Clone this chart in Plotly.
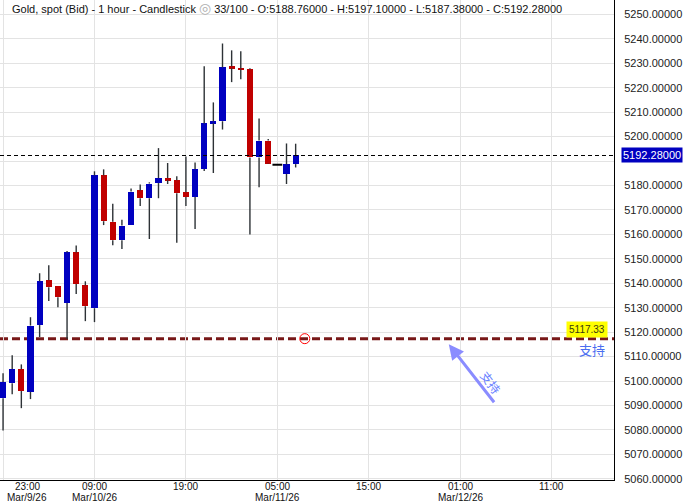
import plotly.graph_objs as go
import pandas as pd

# hourly candles, Gold spot (Bid)
start_time = '2026-03-09 23:00'
n_candles = 33
times = pd.date_range(start_time, periods=n_candles, freq='h')

opens = [5092.9, 5099.1, 5104.8, 5095.5, 5122.9, 5141.2, 5138.7, 5131.9, 5152.6, 5139.1,
         5129.8, 5184.1, 5165.2, 5157.6, 5163.8, 5178.0, 5174.8, 5181.0, 5183.0, 5182.1,
         5177.2, 5175.3, 5186.7, 5205.5, 5206.3, 5228.7, 5227.9, 5227.5, 5191.5, 5198.4,
         5188.5, 5184.7, 5188.76]
highs = [5103.2, 5110.5, 5106.8, 5126.1, 5144.1, 5147.4, 5138.7, 5153.2, 5155.5, 5140.8,
         5185.8, 5186.6, 5172.5, 5166.0, 5178.8, 5180.4, 5181.3, 5195.3, 5189.2, 5183.8,
         5191.9, 5189.4, 5228.8, 5214.0, 5238.1, 5235.3, 5234.9, 5228.0, 5207.4, 5199.0,
         5188.5, 5197.2, 5197.10]
lows = [5079.8, 5094.6, 5088.9, 5092.6, 5118.0, 5132.7, 5130.2, 5117.2, 5135.6, 5124.5,
        5124.1, 5163.8, 5155.6, 5154.0, 5163.8, 5171.6, 5158.1, 5174.8, 5180.6, 5156.6,
        5171.6, 5162.2, 5185.9, 5185.1, 5202.9, 5222.3, 5223.5, 5160.0, 5179.3, 5188.8,
        5188.5, 5180.6, 5187.38]
closes = [5099.6, 5104.8, 5095.9, 5122.7, 5140.8, 5138.4, 5134.3, 5152.6, 5139.7, 5130.6,
          5184.1, 5165.4, 5157.6, 5163.6, 5177.5, 5174.8, 5180.8, 5183.0, 5182.2, 5176.8,
          5175.3, 5186.6, 5205.4, 5206.2, 5228.3, 5228.0, 5227.5, 5191.5, 5198.4, 5189.0,
          5188.5, 5188.6, 5192.28]

last_price = 5192.28
support_price = 5117.33
support_label = '5117.33'
support_text = '支持'
support_anchor = '2026-03-11 08:00'
arrow_tip = ('2026-03-11 23:45', 5115.0)
arrow_tail = ('2026-03-12 04:50', 5090.7)
arrow_text_pos = ('2026-03-12 04:25', 5099.4)

x_tick_times = ['2026-03-09 23:00', '2026-03-10 09:00', '2026-03-10 19:00', '2026-03-11 05:00',
                '2026-03-11 15:00', '2026-03-12 01:00', '2026-03-12 11:00']
x_tick_hours = ['23:00', '09:00', '19:00', '05:00', '15:00', '01:00', '11:00']
x_tick_dates = ['Mar/9/26', 'Mar/10/26', '', 'Mar/11/26', '', 'Mar/12/26', '']

y_ticks = list(range(5060, 5251, 10))

title_text = ("Gold, spot (Bid) - 1 hour - Candlestick "
              "<span style='color:#b0b0b0;font-size:14px'>◎</span> "
              "33/100 - O:5188.76000 - H:5197.10000 - L:5187.38000 - C:5192.28000")

BLUE = '#0000c0'
RED = '#c00000'
FONT = 'Liberation Sans, Arial, sans-serif'

fig = go.Figure()

# 蠟燭實體
body_base = [min(o, c) for o, c in zip(opens, closes)]
body_len = [abs(c - o) for o, c in zip(opens, closes)]
body_col = [BLUE if c > o else RED for o, c in zip(opens, closes)]
fig.add_trace(go.Bar(
    x=times, y=body_len, base=body_base,
    width=0.66 * 3600000,
    marker=dict(color=body_col, line=dict(width=0)),
    showlegend=False, hoverinfo='skip'
))

# 上下影線
wx, wy = [], []
for t, o, h, l, c in zip(times, opens, highs, lows, closes):
    top, bot = max(o, c), min(o, c)
    if h > top:
        wx += [t, t, None]
        wy += [h, top, None]
    if l < bot:
        wx += [t, t, None]
        wy += [bot, l, None]
fig.add_trace(go.Scatter(x=wx, y=wy, mode='lines',
                         line=dict(color='#2d3236', width=1.4),
                         showlegend=False, hoverinfo='skip'))

# 十字星
doji_t = [t for t, o, c in zip(times, opens, closes) if o == c]
doji_p = [o for o, c in zip(opens, closes) if o == c]
fig.add_trace(go.Scatter(x=doji_t, y=doji_p, mode='markers',
                         marker=dict(symbol='line-ew', size=7,
                                     line=dict(color='black', width=2)),
                         showlegend=False, hoverinfo='skip'))

# 支撐線 handle
fig.add_trace(go.Scatter(x=[support_anchor], y=[support_price], mode='markers',
                         marker=dict(symbol='circle-open', size=10, color='#ff0000',
                                     line=dict(color='#ff0000', width=1)),
                         showlegend=False, hoverinfo='skip'))

shapes = [
    dict(type='line', xref='paper', x0=0, x1=1, y0=last_price, y1=last_price,
         line=dict(color='black', width=1.2, dash='4px,3px'), layer='above'),
    dict(type='line', xref='paper', x0=0, x1=1, y0=support_price, y1=support_price,
         line=dict(color='#781818', width=3, dash='8px,4px'), layer='below'),
]

annotations = [
    dict(xref='paper', yref='paper', x=0, y=1, xanchor='left', yanchor='middle',
         xshift=10, yshift=-8, text=title_text, showarrow=False,
         font=dict(size=11, color='#111', family=FONT)),
    dict(xref='paper', yref='y', x=1, y=last_price, xanchor='left', yanchor='middle',
         xshift=7, text=f'{last_price:.5f}', showarrow=False, bgcolor=BLUE,
         borderpad=1, font=dict(size=11, color='white', family=FONT)),
    dict(xref='paper', yref='y', x=1, y=support_price, xanchor='right', yanchor='bottom',
         xshift=-6, yshift=1, text=support_label, showarrow=False, bgcolor='#ffff00',
         borderpad=2, font=dict(size=10, color='#3a3a10', family=FONT)),
    dict(xref='paper', yref='y', x=1, y=support_price, xanchor='right', yanchor='top',
         xshift=-7, yshift=1, text=support_text, showarrow=False,
         font=dict(size=13, color='#4a6df0', family='Noto Sans CJK SC')),
    dict(x=arrow_tip[0], y=arrow_tip[1], ax=arrow_tail[0], ay=arrow_tail[1],
         xref='x', yref='y', axref='x', ayref='y', text='', showarrow=True,
         arrowhead=2, arrowsize=1, arrowwidth=3, arrowcolor='#8a8cff'),
    dict(x=arrow_text_pos[0], y=arrow_text_pos[1], xref='x', yref='y', text=support_text,
         showarrow=False, textangle=53,
         font=dict(size=12, color='#6a82ff', family='Noto Sans CJK SC')),
]

# x 軸標籤（第一個向右移）
for i, (t, hr, dt) in enumerate(zip(x_tick_times, x_tick_hours, x_tick_dates)):
    shift = 24 if i == 0 else 0
    annotations.append(dict(xref='x', yref='paper', x=t, y=0, xanchor='center',
                            yanchor='middle', xshift=shift, yshift=-6, text=hr,
                            showarrow=False, font=dict(size=10, color='#111', family=FONT)))
    if dt:
        annotations.append(dict(xref='x', yref='paper', x=t, y=0, xanchor='center',
                                yanchor='middle', xshift=shift, yshift=-17, text=dt,
                                showarrow=False, font=dict(size=10, color='#111', family=FONT)))

y_text = ['' if v == 5190 else f'{v:.5f}' for v in y_ticks]

fig.update_layout(
    width=683, height=504,
    margin=dict(l=0, r=69, t=0, b=24),
    paper_bgcolor='white', plot_bgcolor='white',
    showlegend=False, bargap=0,
    shapes=shapes, annotations=annotations,
    font=dict(family=FONT, size=11, color='#222'),
    xaxis=dict(type='date', range=['2026-03-09 22:40', '2026-03-12 17:49'],
               tick0=x_tick_times[0], dtick=10 * 3600000, showticklabels=False,
               showgrid=True, gridcolor='#e3e3e3', gridwidth=1,
               showline=True, linecolor='black', linewidth=1, zeroline=False,
               ticks=''),
    yaxis=dict(side='right', range=[5059.5, 5255.9], tickvals=y_ticks, ticktext=y_text,
               showgrid=True, gridcolor='#e3e3e3', gridwidth=1,
               showline=True, linecolor='black', linewidth=1, zeroline=False,
               ticks='outside', ticklen=7, tickcolor='rgba(0,0,0,0)',
               tickfont=dict(size=11, color='#222', family=FONT)),
)

fig.write_html("out.html", config={'displayModeBar': False},
               post_script="document.body.style.margin='0';")
